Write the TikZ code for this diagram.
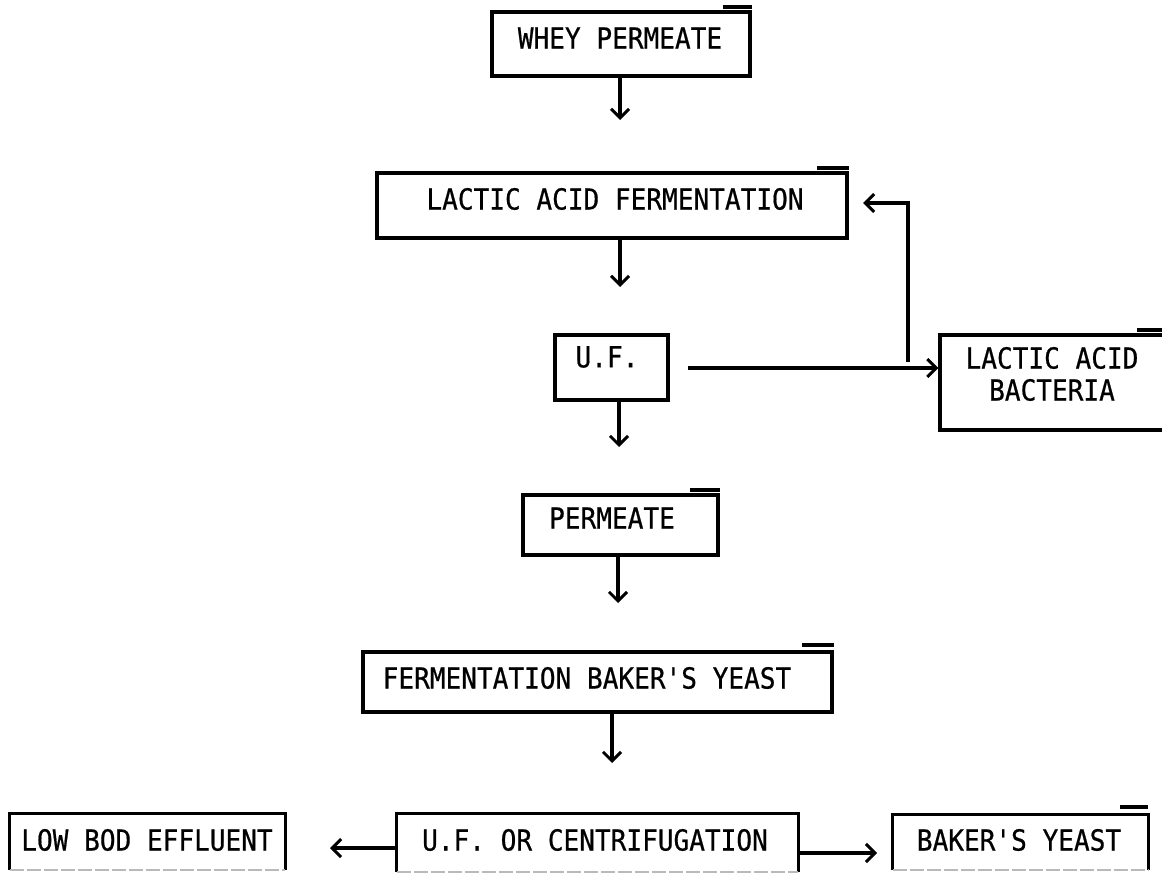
\documentclass[tikz,border=0pt]{standalone}
\usepackage{fontspec}
\newfontfamily\tw{DejaVu Sans Mono}[FakeStretch=0.9,FakeBold=0.6]
\usetikzlibrary{arrows.meta}
\begin{document}
\begin{tikzpicture}[x=1pt,y=-1pt,
  box/.style={draw, line width=3.2pt, inner sep=0pt},
  openbox/.style={inner sep=0pt},
  edge/.style={line width=3.2pt},
  faint/.style={line width=2pt, gray!55, dash pattern=on 14pt off 3pt},
  lbl/.style={font=\tw\fontsize{29}{32}\selectfont, inner sep=0pt, align=center},
  flow/.style={line width=3.2pt, -{Straight Barb[length=9pt,width=18pt,line width=3pt]}},
  bar/.style={line width=3.2pt}]
\useasboundingbox (0,0) rectangle (1162,874);
\clip (0,0) rectangle (1162,874);

% boxes
\node[box, minimum width=258pt, minimum height=64pt] (wp)   at (621,44) {};
\node[box, minimum width=470pt, minimum height=65pt] (laf)  at (612,205.5) {};
\node[box, minimum width=113pt, minimum height=65pt] (uf)   at (611.5,367.5) {};
\node[box, minimum width=240pt, minimum height=95pt] (lab)  at (1060,382.5) {};
\node[box, minimum width=195pt, minimum height=60pt] (perm) at (620.5,525) {};
\node[box, minimum width=469pt, minimum height=60pt] (fby)  at (597.5,682) {};
\node[openbox, minimum width=275pt, minimum height=56pt] (lbe) at (147.5,842) {};
\node[openbox, minimum width=401pt, minimum height=58pt] (ufc) at (597.5,843) {};
\node[openbox, minimum width=255pt, minimum height=55pt] (by)  at (1020.5,842.5) {};
\foreach \b in {lbe,ufc,by}{
  \draw[edge] (\b.south west) -- (\b.north west) -- (\b.north east) -- (\b.south east);
  \draw[faint] (\b.south west) -- (\b.south east);
}

% overbars
\draw[bar] (723,7) -- (wp.north east |- 0,7);
\draw[bar] (817,168) -- (laf.north east |- 0,168);
\draw[bar] (1137,330) -- (1162,330);
\draw[bar] (690,490) -- (perm.north east |- 0,490);
\draw[bar] (802,645) -- (fby.north east |- 0,645);
\draw[bar] (1120,807) -- (by.north east |- 0,807);

% texts
\node[lbl] (wpT)   at (620,38)   {WHEY PERMEATE};
\node[lbl] (lafT)  at (615,199)  {LACTIC ACID FERMENTATION};
\node[lbl] (ufT)   at (607,357)  {U.F.};
\node[lbl] (labT)  at (1052,374) {LACTIC ACID\\BACTERIA};
\node[lbl] (permT) at (612,518)  {PERMEATE};
\node[lbl] (fbyT)  at (587,678)  {FERMENTATION BAKER'S YEAST};
\node[lbl] (lbeT)  at (147,840)  {LOW BOD EFFLUENT};
\node[lbl] (ufcT)  at (595,840)  {U.F. OR CENTRIFUGATION};
\node[lbl] (byT)   at (1019,840) {BAKER'S YEAST};

% connectors
\coordinate (a1) at (620,120);
\coordinate (a2) at (620,287);
\coordinate (a3) at (619,447);
\coordinate (a4) at (618,603);
\coordinate (a5) at (612,763);
\coordinate (a6) at (688,368);
\coordinate (a7s) at (908,362);
\coordinate (a7e) at (863,203);
\coordinate (a8) at (330,848);
\coordinate (a9) at (877,853);

\draw[flow] (a1 |- wp.south) -- (a1);
\draw[flow] (a2 |- laf.south) -- (a2);
\draw[flow] (a3 |- uf.south) -- (a3);
\draw[flow] (a4 |- perm.south) -- (a4);
\draw[flow] (a5 |- fby.south) -- (a5);
\draw[flow] (a6) -- (a6 -| lab.west);
\draw[flow] (a7s) -- (a7s |- a7e) -- (a7e);
\draw[flow] (a8 -| ufc.west) -- (a8);
\draw[flow] (a9 -| ufc.east) -- (a9);
\end{tikzpicture}
\end{document}
